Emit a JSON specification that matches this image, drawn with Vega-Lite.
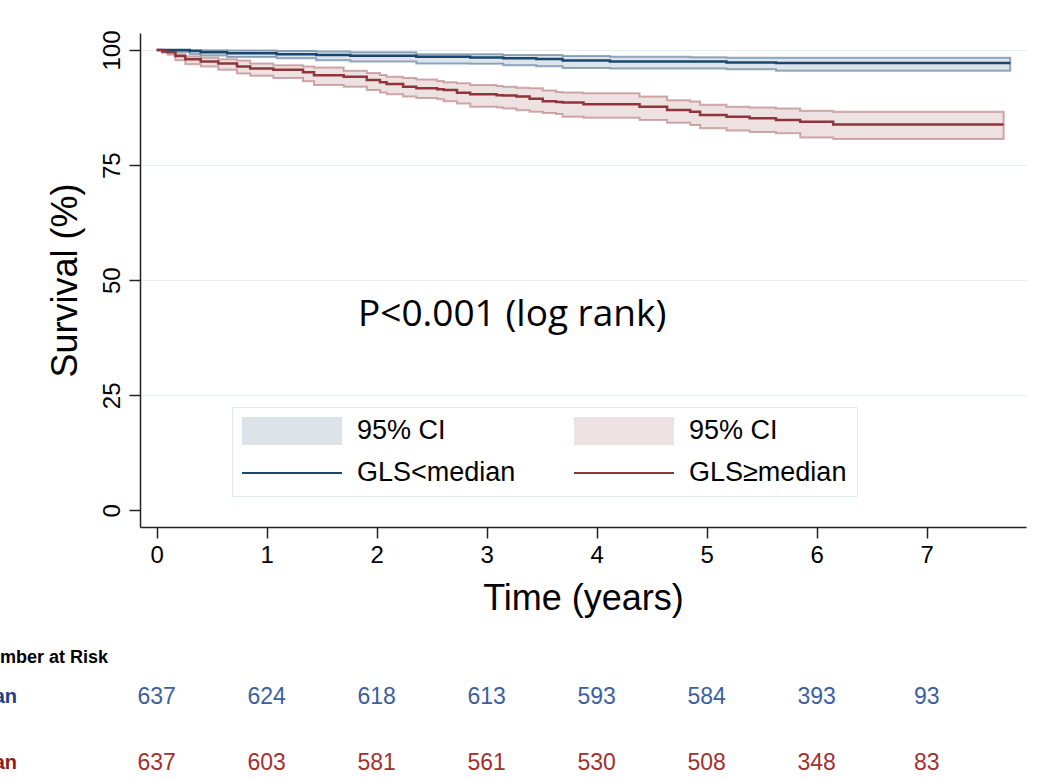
{
  "$schema": "https://vega.github.io/schema/vega-lite/v6.json",
  "width": 886,
  "height": 494,
  "autosize": "none",
  "padding": {"left": 140, "top": 33, "right": 27, "bottom": 252},
  "background": "white",
  "config": {
    "view": {"stroke": null},
    "font": "Liberation Sans",
    "axis": {"domainColor": "#222222", "domainWidth": 1.5, "tickColor": "#222222", "tickWidth": 1.5, "labelColor": "#000000", "titleColor": "#000000", "labelFont": "Liberation Sans", "titleFont": "Liberation Sans", "titleFontWeight": "normal"}
  },
  "datasets": {
    "km": [
      {"g": "lt", "t": 0, "s": 100, "lo": 100, "hi": 100},
      {"g": "lt", "t": 0.1, "s": 100, "lo": 99.6, "hi": 100},
      {"g": "lt", "t": 0.3, "s": 99.8, "lo": 99.1, "hi": 100},
      {"g": "lt", "t": 0.4, "s": 99.5, "lo": 98.8, "hi": 99.95},
      {"g": "lt", "t": 0.64, "s": 99.3, "lo": 98.5, "hi": 99.9},
      {"g": "lt", "t": 1.09, "s": 99.06, "lo": 98.2, "hi": 99.8},
      {"g": "lt", "t": 1.45, "s": 98.9, "lo": 97.8, "hi": 99.7},
      {"g": "lt", "t": 1.76, "s": 98.75, "lo": 97.5, "hi": 99.5},
      {"g": "lt", "t": 2.36, "s": 98.55, "lo": 97.1, "hi": 99.1},
      {"g": "lt", "t": 2.85, "s": 98.4, "lo": 97.0, "hi": 99.1},
      {"g": "lt", "t": 3.15, "s": 98.2, "lo": 96.7, "hi": 98.9},
      {"g": "lt", "t": 3.45, "s": 98.05, "lo": 96.5, "hi": 98.9},
      {"g": "lt", "t": 3.69, "s": 97.75, "lo": 96.1, "hi": 98.7},
      {"g": "lt", "t": 4.12, "s": 97.5, "lo": 96.0, "hi": 98.55},
      {"g": "lt", "t": 4.85, "s": 97.5, "lo": 96.0, "hi": 98.45},
      {"g": "lt", "t": 5.18, "s": 97.3, "lo": 95.8, "hi": 98.3},
      {"g": "lt", "t": 5.63, "s": 97.2, "lo": 95.5, "hi": 98.3},
      {"g": "lt", "t": 7.76, "s": 97.2, "lo": 95.5, "hi": 98.3},
      {"g": "ge", "t": 0, "s": 100, "lo": 100, "hi": 100},
      {"g": "ge", "t": 0.05, "s": 99.7, "lo": 99.4, "hi": 100},
      {"g": "ge", "t": 0.1, "s": 99.5, "lo": 99.0, "hi": 99.7},
      {"g": "ge", "t": 0.17, "s": 98.7, "lo": 97.8, "hi": 99.1},
      {"g": "ge", "t": 0.26, "s": 98.0, "lo": 96.9, "hi": 98.6},
      {"g": "ge", "t": 0.4, "s": 97.5, "lo": 96.4, "hi": 98.3},
      {"g": "ge", "t": 0.56, "s": 97.1, "lo": 95.7, "hi": 98.0},
      {"g": "ge", "t": 0.73, "s": 96.4, "lo": 94.9, "hi": 97.7},
      {"g": "ge", "t": 0.85, "s": 96.0, "lo": 94.4, "hi": 97.1},
      {"g": "ge", "t": 1.06, "s": 95.7, "lo": 93.9, "hi": 96.7},
      {"g": "ge", "t": 1.33, "s": 95.2, "lo": 93.2, "hi": 96.4},
      {"g": "ge", "t": 1.43, "s": 94.5, "lo": 92.4, "hi": 96.2},
      {"g": "ge", "t": 1.7, "s": 94.2, "lo": 92.0, "hi": 95.5},
      {"g": "ge", "t": 1.91, "s": 93.5, "lo": 91.3, "hi": 95.0},
      {"g": "ge", "t": 2.03, "s": 93.0, "lo": 90.8, "hi": 94.6},
      {"g": "ge", "t": 2.09, "s": 92.6, "lo": 90.4, "hi": 94.2},
      {"g": "ge", "t": 2.24, "s": 92.0, "lo": 89.9, "hi": 93.9},
      {"g": "ge", "t": 2.36, "s": 91.7, "lo": 89.6, "hi": 93.6},
      {"g": "ge", "t": 2.55, "s": 91.5, "lo": 89.3, "hi": 93.3},
      {"g": "ge", "t": 2.61, "s": 91.3, "lo": 88.9, "hi": 93.0},
      {"g": "ge", "t": 2.73, "s": 90.7, "lo": 88.4, "hi": 92.8},
      {"g": "ge", "t": 2.85, "s": 90.4, "lo": 87.7, "hi": 92.4},
      {"g": "ge", "t": 3.09, "s": 90.2, "lo": 87.5, "hi": 92.2},
      {"g": "ge", "t": 3.15, "s": 90.1, "lo": 87.3, "hi": 92.0},
      {"g": "ge", "t": 3.27, "s": 89.9, "lo": 86.9, "hi": 91.8},
      {"g": "ge", "t": 3.39, "s": 89.4, "lo": 86.6, "hi": 91.7},
      {"g": "ge", "t": 3.51, "s": 88.9, "lo": 86.3, "hi": 91.2},
      {"g": "ge", "t": 3.63, "s": 88.7, "lo": 86.1, "hi": 90.9},
      {"g": "ge", "t": 3.69, "s": 88.6, "lo": 85.5, "hi": 90.8},
      {"g": "ge", "t": 3.88, "s": 88.2, "lo": 85.3, "hi": 90.6},
      {"g": "ge", "t": 4.39, "s": 87.7, "lo": 84.8, "hi": 89.9},
      {"g": "ge", "t": 4.64, "s": 87.0, "lo": 84.2, "hi": 89.1},
      {"g": "ge", "t": 4.85, "s": 86.6, "lo": 83.7, "hi": 88.8},
      {"g": "ge", "t": 4.94, "s": 85.9, "lo": 83.0, "hi": 88.1},
      {"g": "ge", "t": 5.18, "s": 85.5, "lo": 82.5, "hi": 87.7},
      {"g": "ge", "t": 5.39, "s": 85.2, "lo": 82.2, "hi": 87.5},
      {"g": "ge", "t": 5.63, "s": 84.8, "lo": 81.9, "hi": 87.3},
      {"g": "ge", "t": 5.85, "s": 84.4, "lo": 81.0, "hi": 86.8},
      {"g": "ge", "t": 6.15, "s": 83.8, "lo": 80.7, "hi": 86.6},
      {"g": "ge", "t": 7.7, "s": 83.8, "lo": 80.7, "hi": 86.6}
    ],
    "legend": [
      {"k": "1"}, {"k": "2"}, {"k": "3"}, {"k": "4"}
    ],
    "risk": [
      {"row": 1, "t": 0, "n": 637}, {"row": 1, "t": 1, "n": 624}, {"row": 1, "t": 2, "n": 618}, {"row": 1, "t": 3, "n": 613},
      {"row": 1, "t": 4, "n": 593}, {"row": 1, "t": 5, "n": 584}, {"row": 1, "t": 6, "n": 393}, {"row": 1, "t": 7, "n": 93},
      {"row": 2, "t": 0, "n": 637}, {"row": 2, "t": 1, "n": 603}, {"row": 2, "t": 2, "n": 581}, {"row": 2, "t": 3, "n": 561},
      {"row": 2, "t": 4, "n": 530}, {"row": 2, "t": 5, "n": 508}, {"row": 2, "t": 6, "n": 348}, {"row": 2, "t": 7, "n": 83}
    ],
    "rows": [
      {"row": 1, "label": "GLS<median"},
      {"row": 2, "label": "GLS≥median"}
    ]
  },
  "layer": [
    {
      "layer": [
        {
          "data": {"name": "km"},
          "transform": [{"filter": "datum.g === 'lt'"}],
          "mark": {"type": "area", "interpolate": "step-after", "fill": "#1a476f", "fillOpacity": 0.15, "stroke": "#1a476f", "strokeOpacity": 0.45, "strokeWidth": 2},
          "encoding": {
            "x": {"field": "t", "type": "quantitative", "scale": {"domain": [-0.152, 7.903], "nice": false, "zero": false}, "axis": {"values": [0, 1, 2, 3, 4, 5, 6, 7], "format": "d", "title": "Time (years)", "labelFontSize": 24, "titleFontSize": 36, "tickSize": 11, "labelPadding": 5, "titlePadding": 14, "grid": false, "labelFlush": false}},
            "y": {"field": "lo", "type": "quantitative", "scale": {"domain": [-3.6, 103.7], "nice": false, "zero": false}, "axis": {"values": [0, 25, 50, 75, 100], "title": "Survival (%)", "labelAngle": -90, "labelAlign": "center", "labelBaseline": "alphabetic", "labelFontSize": 24, "labelPadding": 10, "titleFontSize": 36, "titlePadding": 16, "tickSize": 11, "grid": true, "gridColor": {"condition": {"test": "datum.value === 0", "value": "transparent"}, "value": "#e3edf2"}, "gridWidth": 1.2}},
            "y2": {"field": "hi"}
          }
        },
        {
          "data": {"name": "km"},
          "transform": [{"filter": "datum.g === 'ge'"}],
          "mark": {"type": "area", "interpolate": "step-after", "fill": "#90353b", "fillOpacity": 0.15, "stroke": "#90353b", "strokeOpacity": 0.4, "strokeWidth": 2},
          "encoding": {
            "x": {"field": "t", "type": "quantitative", "scale": {"domain": [-0.152, 7.903], "nice": false, "zero": false}, "axis": {"values": [0, 1, 2, 3, 4, 5, 6, 7], "format": "d", "title": "Time (years)", "labelFontSize": 24, "titleFontSize": 36, "tickSize": 11, "labelPadding": 5, "titlePadding": 14, "grid": false, "labelFlush": false}},
            "y": {"field": "lo", "type": "quantitative", "scale": {"domain": [-3.6, 103.7], "nice": false, "zero": false}, "axis": {"values": [0, 25, 50, 75, 100], "title": "Survival (%)", "labelAngle": -90, "labelAlign": "center", "labelBaseline": "alphabetic", "labelFontSize": 24, "labelPadding": 10, "titleFontSize": 36, "titlePadding": 16, "tickSize": 11, "grid": true, "gridColor": {"condition": {"test": "datum.value === 0", "value": "transparent"}, "value": "#e3edf2"}, "gridWidth": 1.2}},
            "y2": {"field": "hi"}
          }
        },
        {
          "data": {"name": "km"},
          "transform": [{"filter": "datum.g === 'lt'"}],
          "mark": {"type": "line", "interpolate": "step-after", "color": "#1a476f", "strokeWidth": 2.5},
          "encoding": {
            "x": {"field": "t", "type": "quantitative", "scale": {"domain": [-0.152, 7.903], "nice": false, "zero": false}, "axis": {"values": [0, 1, 2, 3, 4, 5, 6, 7], "format": "d", "title": "Time (years)", "labelFontSize": 24, "titleFontSize": 36, "tickSize": 11, "labelPadding": 5, "titlePadding": 14, "grid": false, "labelFlush": false}},
            "y": {"field": "s", "type": "quantitative", "scale": {"domain": [-3.6, 103.7], "nice": false, "zero": false}, "axis": {"values": [0, 25, 50, 75, 100], "title": "Survival (%)", "labelAngle": -90, "labelAlign": "center", "labelBaseline": "alphabetic", "labelFontSize": 24, "labelPadding": 10, "titleFontSize": 36, "titlePadding": 16, "tickSize": 11, "grid": true, "gridColor": {"condition": {"test": "datum.value === 0", "value": "transparent"}, "value": "#e3edf2"}, "gridWidth": 1.2}}
          }
        },
        {
          "data": {"name": "km"},
          "transform": [{"filter": "datum.g === 'ge'"}],
          "mark": {"type": "line", "interpolate": "step-after", "color": "#90353b", "strokeWidth": 2.5},
          "encoding": {
            "x": {"field": "t", "type": "quantitative", "scale": {"domain": [-0.152, 7.903], "nice": false, "zero": false}, "axis": {"values": [0, 1, 2, 3, 4, 5, 6, 7], "format": "d", "title": "Time (years)", "labelFontSize": 24, "titleFontSize": 36, "tickSize": 11, "labelPadding": 5, "titlePadding": 14, "grid": false, "labelFlush": false}},
            "y": {"field": "s", "type": "quantitative", "scale": {"domain": [-3.6, 103.7], "nice": false, "zero": false}, "axis": {"values": [0, 25, 50, 75, 100], "title": "Survival (%)", "labelAngle": -90, "labelAlign": "center", "labelBaseline": "alphabetic", "labelFontSize": 24, "labelPadding": 10, "titleFontSize": 36, "titlePadding": 16, "tickSize": 11, "grid": true, "gridColor": {"condition": {"test": "datum.value === 0", "value": "transparent"}, "value": "#e3edf2"}, "gridWidth": 1.2}}
          }
        },
        {
          "data": {"values": [{"p": "P<0.001 (log rank)"}]},
          "mark": {"type": "text", "align": "left", "baseline": "middle", "font": "Open Sans", "fontSize": 37, "color": "#000000"},
          "encoding": {
            "x": {"datum": 1.83, "type": "quantitative", "scale": {"domain": [-0.152, 7.903], "nice": false, "zero": false}, "axis": {"values": [0, 1, 2, 3, 4, 5, 6, 7], "format": "d", "title": "Time (years)", "labelFontSize": 24, "titleFontSize": 36, "tickSize": 11, "labelPadding": 5, "titlePadding": 14, "grid": false, "labelFlush": false}},
            "y": {"datum": 42.5, "type": "quantitative", "scale": {"domain": [-3.6, 103.7], "nice": false, "zero": false}, "axis": {"values": [0, 25, 50, 75, 100], "title": "Survival (%)", "labelAngle": -90, "labelAlign": "center", "labelBaseline": "alphabetic", "labelFontSize": 24, "labelPadding": 10, "titleFontSize": 36, "titlePadding": 16, "tickSize": 11, "grid": true, "gridColor": {"condition": {"test": "datum.value === 0", "value": "transparent"}, "value": "#e3edf2"}, "gridWidth": 1.2}},
            "text": {"field": "p"}
          }
        },
        {
          "data": {"name": "legend"},
          "mark": {"type": "point", "filled": true, "opacity": 0},
          "encoding": {
            "fill": {"field": "k", "type": "nominal", "scale": {"domain": ["1", "3", "2", "4"], "range": ["#dde3e9", "#1a476f", "#eee1e2", "#90353b"]},
              "legend": {"title": null, "orient": "none", "legendX": 92, "legendY": 374, "columns": 2, "columnPadding": 58, "rowPadding": 14, "symbolSize": 784, "symbolStrokeWidth": 0, "symbolOpacity": 1, "labelFont": "Liberation Sans", "labelFontSize": 27, "labelColor": "#000000", "labelLimit": 500, "labelOffset": 87, "padding": 10, "strokeColor": "#dcebee", "fillColor": "#ffffff",
                "labelExpr": "datum.value === '1' || datum.value === '2' ? '95% CI' : (datum.value === '3' ? 'GLS<median' : 'GLS≥median')"}},
            "shape": {"field": "k", "type": "nominal", "scale": {"domain": ["1", "3", "2", "4"], "range": ["M-1,-1H6.143V1H-1Z", "M-1,-0.08H6.143V0.08H-1Z", "M-1,-1H6.143V1H-1Z", "M-1,-0.08H6.143V0.08H-1Z"]},
              "legend": {"title": null, "orient": "none", "legendX": 92, "legendY": 374, "columns": 2, "columnPadding": 58, "rowPadding": 14, "symbolSize": 784, "symbolStrokeWidth": 0, "symbolOpacity": 1, "labelFont": "Liberation Sans", "labelFontSize": 27, "labelColor": "#000000", "labelLimit": 500, "labelOffset": 87, "padding": 10, "strokeColor": "#dcebee", "fillColor": "#ffffff",
                "labelExpr": "datum.value === '1' || datum.value === '2' ? '95% CI' : (datum.value === '3' ? 'GLS<median' : 'GLS≥median')"}}
          }
        }
      ]
    },
    {
      "layer": [
        {
          "data": {"name": "risk"},
          "mark": {"type": "text", "align": "center", "baseline": "middle", "font": "Liberation Sans Narrow, Liberation Sans", "fontSize": 23},
          "encoding": {
            "x": {"field": "t", "type": "quantitative", "scale": {"domain": [-0.152, 7.903], "nice": false, "zero": false}, "axis": {"values": [0, 1, 2, 3, 4, 5, 6, 7], "format": "d", "title": "Time (years)", "labelFontSize": 24, "titleFontSize": 36, "tickSize": 11, "labelPadding": 5, "titlePadding": 14, "grid": false, "labelFlush": false}},
            "y": {"field": "row", "type": "quantitative", "scale": {"domain": [-1.576, -9.061], "nice": false, "zero": false}, "axis": null},
            "text": {"field": "n"},
            "color": {"condition": {"test": "datum.row === 1", "value": "#3a5fa3"}, "value": "#a0312f"}
          }
        },
        {
          "data": {"name": "rows"},
          "mark": {"type": "text", "align": "right", "baseline": "middle", "font": "Liberation Sans Narrow, Liberation Sans", "fontSize": 20, "fontWeight": "bold"},
          "encoding": {
            "x": {"datum": -1.27, "type": "quantitative", "scale": {"domain": [-0.152, 7.903], "nice": false, "zero": false}, "axis": {"values": [0, 1, 2, 3, 4, 5, 6, 7], "format": "d", "title": "Time (years)", "labelFontSize": 24, "titleFontSize": 36, "tickSize": 11, "labelPadding": 5, "titlePadding": 14, "grid": false, "labelFlush": false}},
            "y": {"field": "row", "type": "quantitative", "scale": {"domain": [-1.576, -9.061], "nice": false, "zero": false}, "axis": null},
            "text": {"field": "label"},
            "color": {"condition": {"test": "datum.row === 1", "value": "#203f85"}, "value": "#8c1d1d"}
          }
        },
        {
          "data": {"values": [{"h": "Number at Risk"}]},
          "mark": {"type": "text", "align": "left", "baseline": "middle", "font": "Liberation Sans Narrow, Liberation Sans", "fontSize": 18, "fontWeight": "bold", "color": "#000000"},
          "encoding": {
            "x": {"datum": -1.643, "type": "quantitative", "scale": {"domain": [-0.152, 7.903], "nice": false, "zero": false}, "axis": {"values": [0, 1, 2, 3, 4, 5, 6, 7], "format": "d", "title": "Time (years)", "labelFontSize": 24, "titleFontSize": 36, "tickSize": 11, "labelPadding": 5, "titlePadding": 14, "grid": false, "labelFlush": false}},
            "y": {"datum": 0.41, "type": "quantitative", "scale": {"domain": [-1.576, -9.061], "nice": false, "zero": false}, "axis": null},
            "text": {"field": "h"}
          }
        }
      ]
    }
  ],
  "resolve": {"scale": {"y": "independent"}, "axis": {"y": "independent"}}
}
